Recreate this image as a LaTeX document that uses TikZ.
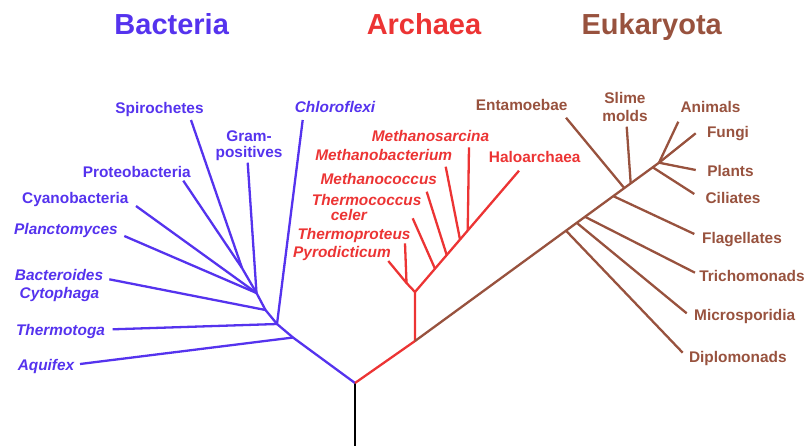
\documentclass[tikz,border=0pt]{standalone}
\usepackage{fontspec}
\setmainfont{Liberation Sans}
\definecolor{bac}{RGB}{85,51,238}
\definecolor{arc}{RGB}{236,52,52}
\definecolor{euk}{RGB}{152,82,62}
\begin{document}
\begin{tikzpicture}[x=1pt,y=-1pt,
  br/.style={line width=2.3pt},
  lab/.style={font=\fontsize{15.4}{17}\selectfont\bfseries, anchor=base, inner sep=0pt},
  ilab/.style={font=\fontsize{15.4}{17}\selectfont\bfseries\itshape, anchor=base, inner sep=0pt},
  ttl/.style={font=\fontsize{29}{32}\selectfont\bfseries, anchor=base, inner sep=0pt}]
\useasboundingbox (0,0) rectangle (805,445);

% titles
\node[ttl, text=bac] (tb) at (171.7,34.3) {Bacteria};
\node[ttl, text=arc] (ta) at (424,34.3) {Archaea};
\node[ttl, text=euk] (te) at (651.7,34.3) {Eukaryota};

% root
\coordinate (r) at (355,383);
\coordinate (rb) at (355,446);
\draw[br, black] (r) -- (rb);

% ---------------- Bacteria ----------------
\coordinate (b1) at (293,337.5);
\coordinate (b2) at (277,324);
\coordinate (b3) at (265.5,310);
\coordinate (b4) at (256.5,293);
\coordinate (b5) at (242,268);
\coordinate (aquE) at (80,364);
\coordinate (therE) at (112.7,329.3);
\coordinate (chloE) at (302.7,120);
\coordinate (bctE) at (109.3,279.3);
\coordinate (gramE) at (247.7,162.7);
\coordinate (planE) at (124.3,236);
\coordinate (cyanE) at (136,206);
\coordinate (protE) at (183.3,180.7);
\coordinate (spirE) at (191,120);
\begin{scope}[br, bac]
\draw (r) -- (b1) -- (b2) -- (b3) -- (b4) -- (b5);
\draw (b1) -- (aquE);
\draw (b2) -- (therE);
\draw (b2) -- (chloE);
\draw (b3) -- (bctE);
\draw (b4) -- (gramE);
\draw (b4) -- (planE);
\draw (b4) -- (cyanE);
\draw (b5) -- (protE);
\draw (b5) -- (spirE);
\end{scope}
\node[ilab, text=bac] (aqu) at (46,370) {Aquifex};
\node[ilab, text=bac] (ther) at (60.5,335) {Thermotoga};
\node[ilab, text=bac] (bct1) at (59,280) {Bacteroides};
\node[ilab, text=bac] (bct2) at (59.5,298) {Cytophaga};
\node[ilab, text=bac] (plan) at (66,234) {Planctomyces};
\node[lab, text=bac] (cyan) at (75.3,203) {Cyanobacteria};
\node[lab, text=bac] (prot) at (136.7,177) {Proteobacteria};
\node[lab, text=bac] (spir) at (159.5,113) {Spirochetes};
\node[lab, text=bac] (gram1) at (249,141) {Gram-};
\node[lab, text=bac] (gram2) at (249,157) {positives};
\node[ilab, text=bac] (chlo) at (335,112) {Chloroflexi};

% ---------------- Archaea ----------------
\coordinate (a1) at (415,341);
\coordinate (a2) at (415,292);
\coordinate (a3) at (406.5,283);
\coordinate (haloE) at (519,170.7);
\coordinate (n1) at (435,268.7);
\coordinate (n2) at (446.7,255);
\coordinate (n3) at (460,239.5);
\coordinate (n4) at (467.7,230.5);
\coordinate (pyroE) at (388.3,261);
\coordinate (tprE) at (405,243.3);
\coordinate (tccE) at (412.7,218.3);
\coordinate (mccE) at (426.7,191.7);
\coordinate (mbcE) at (445.7,166.7);
\coordinate (msrE) at (469,147.3);
\begin{scope}[br, arc]
\draw (r) -- (a1) -- (a2) -- (haloE);
\draw (a2) -- (a3) -- (pyroE);
\draw (a3) -- (tprE);
\draw (n1) -- (tccE);
\draw (n2) -- (mccE);
\draw (n3) -- (mbcE);
\draw (n4) -- (msrE);
\end{scope}
\node[ilab, text=arc] (pyro) at (342,257) {Pyrodicticum};
\node[ilab, text=arc] (tpr) at (354,239.5) {Thermoproteus};
\node[font=\fontsize{15.4}{15}\selectfont\bfseries\itshape, text=arc, inner sep=0pt,
      anchor=north west, align=left] (tcc) at (311.7,194) {Thermococcus\\\hspace*{19pt}celer};
\node[ilab, text=arc] (mcc) at (378.8,184.5) {Methanococcus};
\node[ilab, text=arc] (mbc) at (383.7,160.5) {Methanobacterium};
\node[ilab, text=arc] (msr) at (430.5,141) {Methanosarcina};
\node[lab, text=arc] (halo) at (534.7,162.7) {Haloarchaea};

% ---------------- Eukaryota ----------------
\coordinate (fan) at (659,162.7);
\coordinate (eD) at (566,230.7);
\coordinate (eM) at (576.7,222.8);
\coordinate (eT) at (585,216.8);
\coordinate (eF) at (613.3,196.1);
\coordinate (eE) at (624.3,188.1);
\coordinate (eS) at (630.7,183.4);
\coordinate (eC) at (652.7,167.3);
\coordinate (dipE) at (682.7,352.7);
\coordinate (micE) at (686.7,313.3);
\coordinate (triE) at (695,272.7);
\coordinate (flaE) at (694.3,234);
\coordinate (entE) at (566,117.7);
\coordinate (sliE) at (626.7,126.7);
\coordinate (cilE) at (694.3,194);
\coordinate (plaE) at (695.7,170);
\coordinate (funE) at (695.7,133.3);
\coordinate (aniE) at (678.3,121.7);
\begin{scope}[br, euk]
\draw (a1) -- (fan);
\draw (eD) -- (dipE);
\draw (eM) -- (micE);
\draw (eT) -- (triE);
\draw (eF) -- (flaE);
\draw (eE) -- (entE);
\draw (eS) -- (sliE);
\draw (eC) -- (cilE);
\draw (fan) -- (plaE);
\draw (fan) -- (funE);
\draw (fan) -- (aniE);
\end{scope}
\node[lab, text=euk] (dip) at (737.8,362.7) {Diplomonads};
\node[lab, text=euk] (mic) at (744.7,320.5) {Microsporidia};
\node[lab, text=euk] (tri) at (752,281) {Trichomonads};
\node[lab, text=euk] (fla) at (742,243.7) {Flagellates};
\node[lab, text=euk] (cil) at (733,203.7) {Ciliates};
\node[lab, text=euk] (pla) at (730.5,176) {Plants};
\node[lab, text=euk] (fun) at (728,137.7) {Fungi};
\node[lab, text=euk] (ani) at (710.5,112.7) {Animals};
\node[lab, text=euk] (sli1) at (625,103.7) {Slime};
\node[lab, text=euk] (sli2) at (625,121.7) {molds};
\node[lab, text=euk] (ent) at (521.7,110.5) {Entamoebae};
\end{tikzpicture}
\end{document}
